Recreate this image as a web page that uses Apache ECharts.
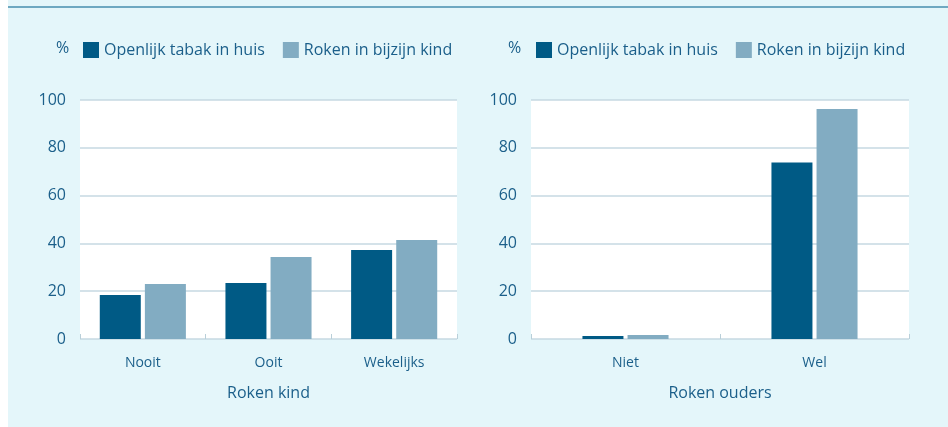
<!DOCTYPE html>
<html lang="nl">
<head>
    <meta charset="UTF-8">
    <title>Roken kind / ouders</title>
    <script type="text/javascript" src="https://cdn.jsdelivr.net/npm/echarts@6/dist/echarts.min.js"></script>
    <style>
        html, body {margin: 0; padding: 0; background: #e4f6fa;}
        #charts {width: 948px; height: 427px;}
    </style>
</head>
<body>
<div id="charts"></div>
<script>
    // data
    var kindCats = ["Nooit", "Ooit", "Wekelijks"]
    var kindTabak = [18.4, 23.4, 37.2]
    var kindRoken = [23.0, 34.3, 41.4]
    var oudersCats = ["Niet", "Wel"]
    var oudersTabak = [1.3, 73.8]
    var oudersRoken = [1.7, 96.2]
    var seriesNames = ["Openlijk tabak in huis", "Roken in bijzijn kind"]

    var dark = "#005a85"
    var light = "#82acc2"
    var txt = "#1b5f8a"
    var font = "Open Sans"

    function xAx(idx, cats, name) {
        return {
            type: "category", gridIndex: idx, data: cats,
            name: name, nameLocation: "middle", nameGap: 46,
            nameTextStyle: {color: txt, fontSize: 16, fontFamily: font},
            axisLine: {show: false},
            axisTick: {show: true, inside: true, length: 5, lineStyle: {color: "#b9cfd9"}},
            axisLabel: {color: txt, fontSize: 14, fontFamily: font, margin: 17}
        }
    }

    function yAx(idx) {
        return {
            type: "value", gridIndex: idx, min: 0, max: 100, interval: 20,
            axisLine: {show: false}, axisTick: {show: false},
            axisLabel: {color: txt, fontSize: 16, fontFamily: font, margin: 14},
            splitLine: {lineStyle: {color: "#c6d9e2", width: 1.5}}
        }
    }

    function legendAt(left) {
        return {
            left: left, top: 37, itemWidth: 16, itemHeight: 16, itemGap: 18, icon: "rect",
            data: seriesNames,
            textStyle: {color: txt, fontSize: 16, fontFamily: font}
        }
    }

    function bar(name, idx, data, color) {
        return {
            name: name, type: "bar", xAxisIndex: idx, yAxisIndex: idx, data: data,
            barWidth: 41, barGap: "10%", itemStyle: {color: color}
        }
    }

    var chart = echarts.init(document.getElementById("charts"), null, {renderer: "canvas"})
    chart.setOption({
        backgroundColor: "#e4f6fa",
        animation: false,
        graphic: [
            {type: "rect", shape: {x: 0, y: 0, width: 8, height: 427}, style: {fill: "#ffffff"}},
            {type: "rect", shape: {x: 8, y: 6, width: 940, height: 2}, style: {fill: "#6ea8c1"}}
        ],
        title: [
            {text: "%", left: 51, top: 35, textStyle: {color: txt, fontSize: 16, fontWeight: "normal", fontFamily: font}},
            {text: "%", left: 503, top: 35, textStyle: {color: txt, fontSize: 16, fontWeight: "normal", fontFamily: font}}
        ],
        legend: [legendAt(78), legendAt(531)],
        grid: [
            {left: 80, top: 100, width: 377, height: 239, backgroundColor: "#ffffff", show: true, borderWidth: 0},
            {left: 531, top: 100, width: 378, height: 239, backgroundColor: "#ffffff", show: true, borderWidth: 0}
        ],
        xAxis: [xAx(0, kindCats, "Roken kind"), xAx(1, oudersCats, "Roken ouders")],
        yAxis: [yAx(0), yAx(1)],
        series: [
            bar(seriesNames[0], 0, kindTabak, dark),
            bar(seriesNames[1], 0, kindRoken, light),
            bar(seriesNames[0], 1, oudersTabak, dark),
            bar(seriesNames[1], 1, oudersRoken, light)
        ]
    })
</script>
</body>
</html>
